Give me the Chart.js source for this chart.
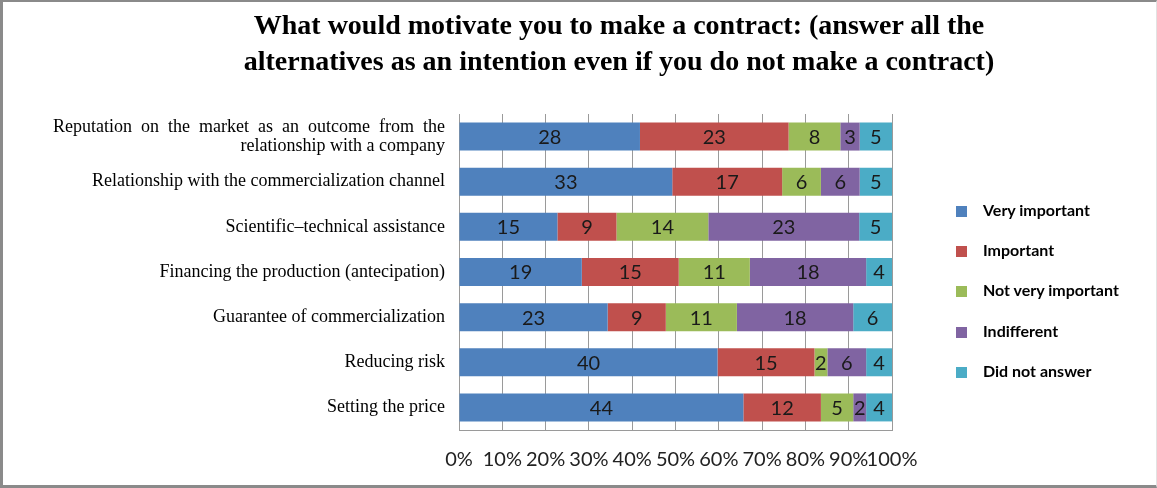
<!DOCTYPE html>
<html>
<head>
<meta charset="utf-8">
<script src="https://cdn.jsdelivr.net/npm/chart.js@4.4.1/dist/chart.umd.min.js"></script>
<style>
  html, body { margin: 0; padding: 0; background: #fff; }
  #frame {
    position: relative;
    width: 1157px; height: 488px;
    box-sizing: border-box;
    border-top: 2px solid #8a8a8a;
    border-left: 3px solid #8a8a8a;
    border-bottom: 3px solid #8a8a8a;
    border-right: 1px solid #e2e2e2;
    overflow: hidden;
  }
  #title {
    position: absolute; left: 216px; top: 5px; width: 800px;
    text-align: center;
    font: bold 28px "Liberation Serif", serif;
    line-height: 36px;
    color: #000;
    white-space: nowrap;
  }
  #canvasWrap { position: absolute; left: -3px; top: -2px; width: 1157px; height: 488px; }
  #legend { position: absolute; left: 953px; top: 198px; }
  #legend div {
    height: 40.2px;
    font: bold 16px Lato, sans-serif;
    color: #000;
    white-space: nowrap;
  }
  #legend span {
    display: inline-block; width: 11px; height: 11px;
    margin-right: 16px; vertical-align: -1px;
  }
</style>
</head>
<body>
<div id="frame">
  <div id="canvasWrap"><canvas id="myChart" width="1157" height="488"></canvas></div>
  <div id="title">What would motivate you to make a contract: (answer all the<br>alternatives as an intention even if you do not make a contract)</div>
  <div id="legend"></div>
</div>
<script>
// Motivations (top to bottom)
const categories = [
  ["Reputation  on  the  market  as  an  outcome  from  the", "relationship with a company"],
  "Relationship with the commercialization channel",
  "Scientific\u2013technical assistance",
  "Financing the production (antecipation)",
  "Guarantee of commercialization",
  "Reducing risk",
  "Setting the price"
];

// Number of answers per level
const veryImportant    = [28, 33, 15, 19, 23, 40, 44];
const important        = [23, 17, 9, 15, 9, 15, 12];
const notVeryImportant = [8, 6, 14, 11, 11, 2, 5];
const indifferent      = [3, 6, 23, 18, 18, 6, 2];
const didNotAnswer     = [5, 5, 5, 4, 6, 4, 4];

const seriesNames  = ["Very important", "Important", "Not very important", "Indifferent", "Did not answer"];
const seriesValues = [veryImportant, important, notVeryImportant, indifferent, didNotAnswer];
const seriesColors = ["#4F81BD", "#C0504D", "#9BBB59", "#8064A2", "#4BACC6"];

// x axis ticks: 0% .. 100%
const tickValues = [0, 10, 20, 30, 40, 50, 60, 70, 80, 90, 100];

// each row is shown as a share of its own total
const rowTotals = categories.map((c, i) => seriesValues.reduce((s, arr) => s + arr[i], 0));

const datasets = seriesNames.map((name, k) => ({
  label: name,
  counts: seriesValues[k],
  data: seriesValues[k].map((v, i) => v / rowTotals[i] * 100),
  backgroundColor: seriesColors[k],
  borderWidth: 0,
  barPercentage: 0.62,
  categoryPercentage: 1
}));

// write the answer count in the middle of every segment
const countLabels = {
  id: 'countLabels',
  afterDatasetsDraw(chart) {
    const ctx = chart.ctx;
    ctx.save();
    ctx.font = '20px Lato, sans-serif';
    ctx.fillStyle = '#1a1a1a';
    ctx.textAlign = 'center';
    ctx.textBaseline = 'middle';
    chart.data.datasets.forEach((ds, k) => {
      chart.getDatasetMeta(k).data.forEach((bar, i) => {
        const p = bar.getCenterPoint();
        ctx.fillText(ds.counts[i], p.x, p.y + 1);
      });
    });
    ctx.restore();
  }
};

let ctx = document.getElementById("myChart").getContext("2d");
let myChart = new Chart(ctx, {
  type: "bar",
  data: { labels: categories, datasets: datasets },
  plugins: [countLabels],
  options: {
    indexAxis: 'y',
    responsive: false,
    animation: false,
    layout: { padding: { left: 44, right: 265, top: 114, bottom: 18 } },
    plugins: {
      legend: { display: false },
      tooltip: { enabled: false },
      title: { display: false }
    },
    scales: {
      x: {
        stacked: true,
        min: 0,
        max: 100,
        afterBuildTicks(scale) { scale.ticks = tickValues.map(v => ({ value: v })); },
        afterFit(scale) { scale.height = 40; },
        grid: { color: '#9a9a9a', lineWidth: 1, drawTicks: false },
        border: { color: '#9a9a9a' },
        ticks: {
          padding: 18,
          color: '#222',
          font: { family: 'Lato', size: 20 },
          maxRotation: 0,
          autoSkip: false,
          callback: v => v + '%'
        }
      },
      y: {
        stacked: true,
        afterFit(scale) { scale.width = 415; },
        grid: { display: false, drawTicks: false },
        border: { color: '#9a9a9a', width: 1 },
        ticks: {
          padding: 14,
          color: '#000',
          font: { family: 'Liberation Serif', size: 18, lineHeight: 1.05 }
        }
      }
    }
  }
});

// legend on the right
const legendBox = document.getElementById('legend');
myChart.data.datasets.forEach(ds => {
  const row = document.createElement('div');
  const sw = document.createElement('span');
  sw.style.background = ds.backgroundColor;
  row.appendChild(sw);
  row.appendChild(document.createTextNode(ds.label));
  legendBox.appendChild(row);
});
</script>
</body>
</html>
